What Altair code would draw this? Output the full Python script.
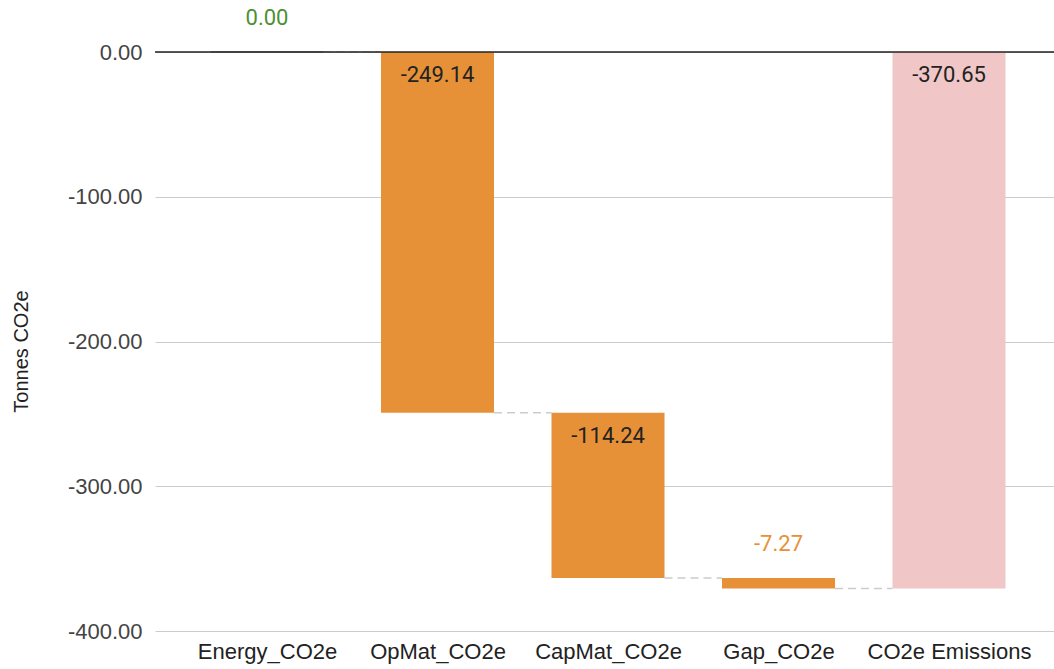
import json
import altair as alt
import pandas as pd

# Waterfall of CO2e contributions (tonnes) with a closing total bar
categories = ["Energy_CO2e", "OpMat_CO2e", "CapMat_CO2e", "Gap_CO2e", "CO2e Emissions"]
deltas = [0.00, -249.14, -114.24, -7.27]
total_value = -370.65
y_ticks = [-400, -300, -200, -100, 0]

# Build the running-total table: each step starts where the previous ended
rows = []
running = 0.0
for i, (name, d) in enumerate(zip(categories[:-1], deltas)):
    start = running
    end = running + d
    rows.append({"idx": i, "name": name, "start": start, "end": end, "delta": d,
                 "kind": "increase" if d >= 0 else "decrease"})
    running = end
rows.append({"idx": len(categories) - 1, "name": categories[-1], "start": 0.0,
             "end": total_value, "delta": total_value, "kind": "total"})
df = pd.DataFrame(rows)
df["top"] = df[["start", "end"]].max(axis=1)
# value labels with a plain hyphen for the sign
df["label"] = [f"{v:.2f}" for v in df["delta"]]

HALF = 0.3314  # half bar width in category units
df["x0"] = df["idx"] - HALF
df["x1"] = df["idx"] + HALF

# Dashed connectors between consecutive bars at the running level
conn = pd.DataFrame({
    "x0": df["x1"].iloc[:-1].values,
    "x1": df["x0"].iloc[1:].values,
    "level": df["end"].iloc[:-1].values,
})

label_expr = json.dumps(categories) + "[datum.value]"
y_label_expr = "replace(format(datum.value, '.2f'), '\u2212', '-')"
x_scale = alt.Scale(domain=[-0.6569, 4.6158], nice=False, zero=False)
y_scale = alt.Scale(domain=[-400, 0], nice=False)
color_scale = alt.Scale(domain=["increase", "decrease", "total"],
                        range=["#4e8f33", "#e69138", "#f0c6c7"])

base = alt.Chart(df)

bars = base.mark_bar(strokeWidth=1.5).encode(
    x=alt.X("x0:Q", scale=x_scale,
            axis=alt.Axis(values=list(range(len(categories))), labelExpr=label_expr,
                          grid=False, domain=False, ticks=False, tickSize=0,
                          labelFont="Liberation Sans", labelFontSize=22,
                          labelColor="#222222", labelPadding=10, title=None)),
    x2="x1:Q",
    y=alt.Y("start:Q", scale=y_scale,
            axis=alt.Axis(values=y_ticks, labelExpr=y_label_expr, grid=True,
                          gridColor="#cccccc", domain=False, ticks=False, tickSize=0,
                          labelFont="Liberation Sans", labelFontSize=22,
                          labelColor="#444444", labelPadding=13,
                          title="Tonnes CO2e", titleFont="Liberation Sans",
                          titleFontSize=20, titleFontWeight="normal", titleColor="#222222",
                          titleX=-128, titleY=299, titleBaseline="alphabetic")),
    y2="end:Q",
    color=alt.Color("kind:N", scale=color_scale, legend=None),
    stroke=alt.condition("datum.delta == 0", alt.value("#8a8a8a"), alt.value("transparent")),
)

connectors = alt.Chart(conn).mark_rule(color="#cccccc", strokeWidth=1.5,
                                       strokeDash=[8, 5]).encode(
    x=alt.X("x0:Q", scale=x_scale),
    x2="x1:Q",
    y=alt.Y("level:Q", scale=y_scale),
)

zero_line = alt.Chart(pd.DataFrame({"level": [0]})).mark_rule(
    color="#222222", strokeWidth=1.5
).encode(y=alt.Y("level:Q", scale=y_scale))

inside_labels = base.transform_filter("abs(datum.delta) >= 20").mark_text(
    font="Roboto", fontSize=22, color="#222222", baseline="middle", dy=23
).encode(
    x=alt.X("idx:Q", scale=x_scale),
    y=alt.Y("top:Q", scale=y_scale),
    text="label:N",
)

outside_labels = base.transform_filter("abs(datum.delta) < 20").mark_text(
    font="Roboto", fontSize=22, baseline="middle", dy=-34
).encode(
    x=alt.X("idx:Q", scale=x_scale),
    y=alt.Y("top:Q", scale=y_scale),
    text="label:N",
    color=alt.Color("kind:N", scale=color_scale, legend=None),
)

chart = alt.layer(connectors, bars, zero_line, inside_labels, outside_labels).properties(
    width=899,
    height=579,
    autosize=alt.AutoSizeParams(type="none"),
    padding={"left": 155, "top": 52, "right": 0, "bottom": 38},
    background="white",
).configure_view(stroke=None)

chart.save("out.html", embed_options={"renderer": "svg", "actions": False})
